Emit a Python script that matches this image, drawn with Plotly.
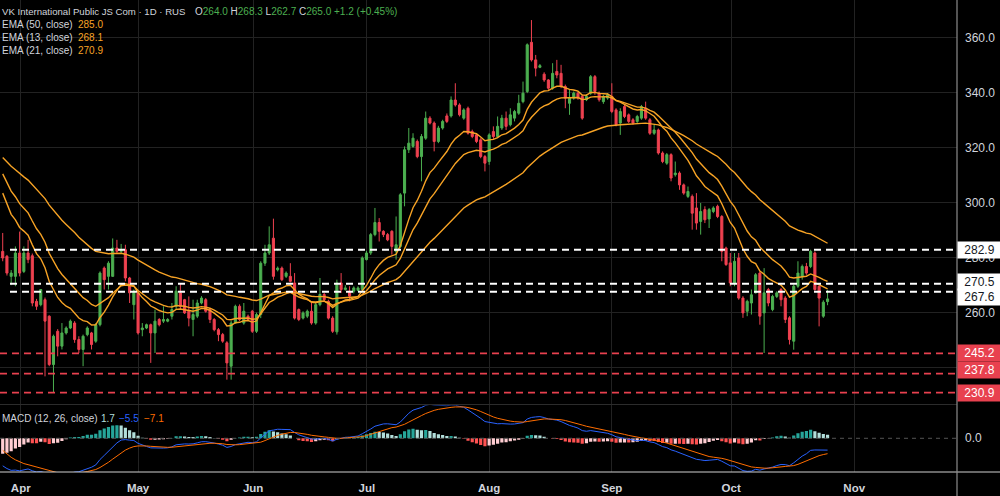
import numpy as np
import plotly.graph_objects as go

# ---------------- data ----------------
OPEN = [282.3, 280.5, 273.2, 273.2, 281.7, 275.0, 281.7, 280.7, 264.1, 262.9,
        264.7, 258.7, 241.1, 253.2, 247.8, 252.6, 254.4, 256.2, 250.2, 246.6,
        252.0, 252.6, 249.6, 255.6, 276.2, 273.2, 273.2, 283.5, 282.3, 282.9,
        272.6, 262.9, 267.2, 253.8, 254.4, 255.6, 252.6, 257.5, 256.9, 256.9,
        258.7, 262.3, 267.2, 264.7, 260.5, 257.5, 258.7, 263.5, 264.7, 261.1,
        257.5, 253.8, 252.0, 249.0, 240.5, 256.2, 262.3, 256.2, 258.7, 260.5,
        253.2, 259.3, 278.0, 281.7, 287.1, 275.6, 276.2, 273.2, 273.2, 270.8,
        261.1, 258.0, 258.7, 260.5, 256.2, 262.9, 266.6, 264.1, 258.0, 253.0,
        270.8, 268.4, 267.8, 267.8, 268.1, 268.4, 279.3, 281.7, 288.4, 292.8,
        289.6, 288.4, 289.6, 282.3, 284.1, 303.5, 319.3, 320.5, 322.3, 316.8,
        323.5, 330.8, 329.0, 322.3, 327.2, 331.6, 331.6, 337.4, 335.6, 330.8,
        334.4, 325.9, 324.7, 322.9, 316.8, 315.0, 325.9, 324.1, 327.2, 330.8,
        328.4, 330.8, 332.6, 336.8, 340.5, 358.4, 352.0, 349.3, 346.8, 344.7,
        341.7, 347.8, 347.1, 342.3, 336.2, 338.1, 339.9, 338.7, 337.5, 339.9,
        345.9, 339.9, 336.8, 338.1, 338.7, 333.8, 329.0, 335.0, 332.0, 330.2,
        329.6, 330.8, 334.4, 330.2, 325.3, 326.5, 318.1, 314.4, 317.5, 310.2,
        310.8, 306.5, 302.3, 302.3, 298.1, 293.2, 297.5, 294.1, 296.8, 298.7,
        295.0, 283.5, 278.1, 270.8, 279.9, 265.3, 260.5, 263.5, 267.2, 274.4,
        259.9, 268.4, 261.1, 265.9, 268.4, 265.3, 258.1, 249.6, 269.6, 273.2,
        276.8, 276.8, 281.7, 269.6, 258.7, 264.0]
HIGH = [289.0, 281.0, 275.5, 284.1, 289.5, 284.1, 286.5, 281.5, 265.0, 268.6,
        265.5, 259.0, 252.0, 254.0, 256.2, 255.0, 257.5, 256.9, 251.4, 252.0,
        255.0, 253.0, 256.2, 275.0, 276.8, 278.7, 287.0, 286.5, 285.0, 284.7,
        273.0, 268.4, 268.0, 256.2, 256.0, 256.0, 261.1, 258.0, 262.3, 258.0,
        263.5, 269.6, 270.8, 265.0, 265.9, 264.7, 264.7, 266.0, 265.3, 261.5,
        258.0, 254.4, 252.6, 249.6, 257.0, 262.9, 263.0, 263.5, 259.3, 261.0,
        260.0, 278.7, 284.7, 291.4, 294.2, 276.8, 276.8, 275.0, 278.0, 274.4,
        261.5, 260.5, 261.1, 263.5, 263.5, 272.6, 267.2, 264.7, 258.7, 272.0,
        274.4, 270.0, 269.6, 269.6, 269.6, 280.5, 282.5, 289.0, 298.1, 294.4,
        290.0, 289.0, 290.0, 295.0, 303.5, 320.5, 327.2, 325.3, 323.0, 325.0,
        333.2, 331.5, 329.6, 328.0, 330.2, 332.5, 338.7, 343.5, 336.2, 334.4,
        335.0, 326.6, 325.3, 323.5, 317.4, 325.3, 327.8, 331.4, 332.0, 333.2,
        334.4, 333.8, 339.3, 344.1, 358.0, 366.5, 353.8, 350.5, 347.5, 345.0,
        350.8, 352.0, 350.2, 343.0, 341.1, 340.5, 340.5, 339.3, 339.5, 346.5,
        346.5, 340.5, 339.3, 339.9, 343.5, 334.4, 334.4, 335.6, 332.5, 330.8,
        332.0, 335.6, 336.8, 330.8, 328.4, 327.0, 318.7, 318.1, 318.0, 315.0,
        311.4, 307.0, 305.9, 303.0, 303.5, 299.9, 298.7, 298.1, 298.7, 299.3,
        295.5, 284.0, 281.7, 281.7, 281.7, 266.0, 264.7, 268.4, 274.4, 275.0,
        276.2, 269.0, 266.5, 267.8, 269.0, 266.0, 258.7, 270.2, 278.7, 277.5,
        278.1, 282.9, 282.3, 269.8, 264.5, 268.3]
LOW = [278.7, 273.5, 270.0, 269.6, 273.2, 274.4, 278.0, 262.3, 261.0, 262.3,
       236.8, 240.5, 230.8, 244.1, 246.6, 252.0, 254.0, 249.0, 245.3, 240.5,
       251.4, 246.6, 249.0, 255.0, 268.4, 268.4, 273.0, 281.7, 281.5, 271.4,
       263.5, 257.5, 252.0, 251.4, 254.0, 241.7, 245.3, 255.0, 256.2, 256.5,
       257.5, 261.1, 261.1, 259.5, 255.0, 251.4, 258.0, 263.0, 260.0, 256.2,
       253.2, 249.6, 249.0, 235.6, 235.6, 256.0, 256.9, 255.6, 257.0, 252.6,
       252.6, 258.0, 277.0, 281.0, 272.0, 275.0, 271.5, 272.6, 271.0, 257.5,
       256.9, 257.5, 258.0, 255.6, 255.6, 262.3, 264.0, 257.5, 252.6, 252.0,
       267.2, 268.0, 264.1, 267.0, 267.8, 268.0, 279.0, 281.0, 287.8, 285.9,
       287.5, 286.0, 281.1, 279.3, 283.5, 298.7, 318.1, 320.0, 316.2, 307.8,
       322.9, 328.5, 318.7, 321.7, 326.6, 329.0, 331.0, 335.0, 331.4, 330.2,
       324.8, 323.5, 321.7, 316.2, 311.4, 313.8, 322.9, 323.5, 326.5, 326.5,
       327.8, 329.6, 332.0, 336.2, 339.9, 351.4, 346.0, 349.0, 344.0, 341.1,
       341.1, 345.3, 341.7, 334.4, 332.0, 337.5, 337.5, 330.2, 337.0, 339.3,
       339.3, 336.8, 336.0, 337.5, 332.6, 327.8, 324.7, 330.8, 329.0, 328.4,
       329.0, 330.2, 330.2, 324.7, 324.7, 317.5, 314.4, 313.8, 307.8, 309.5,
       304.7, 302.9, 301.7, 290.2, 290.2, 288.4, 292.6, 290.8, 296.2, 294.4,
       278.7, 277.0, 269.6, 269.6, 264.7, 258.1, 258.7, 259.3, 267.0, 255.6,
       245.3, 262.3, 260.5, 265.3, 262.3, 256.2, 248.4, 246.5, 269.0, 272.0,
       273.8, 276.2, 268.0, 255.0, 258.1, 262.7]
CLOSE = [279.9, 274.4, 274.4, 281.7, 274.4, 281.7, 279.3, 263.5, 262.3, 268.4,
         256.9, 241.1, 251.4, 247.8, 252.6, 254.4, 256.9, 250.2, 246.6, 251.4,
         254.4, 248.4, 255.6, 274.4, 272.0, 278.0, 283.5, 282.3, 283.0, 272.6,
         267.2, 267.8, 252.6, 254.4, 255.6, 252.6, 256.9, 255.6, 257.5, 257.5,
         261.1, 267.8, 262.3, 259.9, 258.0, 259.3, 263.5, 265.3, 260.5, 257.5,
         253.8, 252.0, 249.6, 241.7, 256.2, 262.3, 257.5, 260.5, 257.5, 253.2,
         259.3, 278.0, 281.7, 284.7, 273.2, 276.2, 272.0, 274.4, 271.4, 258.0,
         257.5, 259.9, 260.5, 256.2, 262.9, 266.6, 264.7, 258.0, 253.2, 270.8,
         268.4, 269.0, 266.0, 269.0, 269.0, 279.9, 281.7, 288.4, 292.8, 289.6,
         288.4, 286.5, 284.1, 284.7, 302.9, 319.3, 321.7, 323.5, 316.8, 324.1,
         330.8, 329.0, 322.3, 327.2, 329.6, 329.6, 337.4, 335.6, 332.0, 333.8,
         325.3, 324.1, 322.3, 316.8, 314.4, 324.7, 324.1, 327.8, 330.8, 327.8,
         332.0, 333.2, 336.2, 339.9, 357.5, 352.0, 349.0, 349.9, 344.7, 341.7,
         347.1, 346.5, 342.3, 338.1, 338.1, 339.9, 338.1, 330.8, 338.7, 345.9,
         340.5, 337.5, 338.7, 339.3, 333.2, 328.4, 333.2, 331.4, 329.6, 329.0,
         331.4, 335.0, 330.8, 325.3, 326.5, 318.1, 315.0, 317.5, 309.0, 310.8,
         306.5, 303.5, 304.1, 296.2, 292.6, 296.8, 293.8, 297.5, 298.1, 295.0,
         282.3, 277.5, 270.8, 278.7, 265.3, 259.9, 264.1, 266.5, 273.8, 258.7,
         267.2, 263.5, 265.9, 267.2, 264.7, 257.5, 250.2, 269.6, 274.4, 276.8,
         274.4, 282.3, 268.4, 265.3, 263.8, 265.0]

# indicator values at the first visible bar
EMA_SEED = {13: 303.5, 21: 310.5, 50: 316.5}
MACD_FAST_SEED = 301.5   # EMA(12) at first bar
MACD_SLOW_SEED = 314.0   # EMA(26) at first bar
MACD_SIGNAL_SEED = -5.5

MONTH_LABELS = ["Apr", "May", "Jun", "Jul", "Aug", "Sep", "Oct", "Nov"]
MONTH_START_BAR = [4.26, 32.0, 59.2, 86.1, 115.0, 144.0, 172.2, 201.3]

PRICE_TICKS = [240, 260, 280, 300, 320, 340, 360]
WHITE_LEVELS = [282.9, 270.5, 267.6]
RED_LEVELS = [245.2, 237.8, 230.9]

TITLE = "VK International Public JS Com · 1D · RUS"
OHLC_TEXT = [("O", "264.0"), ("H", "268.3"), ("L", "262.7"), ("C", "265.0")]
CHANGE_TEXT = "+1.2 (+0.45%)"
EMA_LEGEND = [("EMA (50, close)", "285.0"), ("EMA (13, close)", "268.1"),
              ("EMA (21, close)", "270.9")]
MACD_LEGEND = ("MACD (12, 26, close)", "1.7", "−5.5", "−7.1")

# ---------------- indicators ----------------
def ema(values, span, seed):
    a = 2.0 / (span + 1)
    out = [seed]
    for v in values[1:]:
        out.append(a * v + (1 - a) * out[-1])
    return np.array(out)

close = np.array(CLOSE)
x = np.arange(len(CLOSE))
ema13 = ema(close, 13, EMA_SEED[13])
ema21 = ema(close, 21, EMA_SEED[21])
ema50 = ema(close, 50, EMA_SEED[50])
macd = ema(close, 12, MACD_FAST_SEED) - ema(close, 26, MACD_SLOW_SEED)
signal = ema(macd, 9, MACD_SIGNAL_SEED)
hist = macd - signal
hcol = []
for i, h in enumerate(hist):
    prev = hist[i - 1] if i > 0 else h
    if h >= 0:
        hcol.append("#26a69a" if h > prev else "#b2dfdb")
    else:
        hcol.append("#ff5252" if h < prev else "#ffcdd2")

# ---------------- styling ----------------
UP = "#4caf50"
DOWN = "#ef4150"
EMA_COL = "#f7a325"
TXT = "#d1d4dc"
GRID = "#222222"
FONT = "Liberation Sans, Arial, sans-serif"
W, H = 1000, 496
ML, MR, MT, MB = 0, 43, 0, 24
PW, PH = W - ML - MR, H - MT - MB

fig = go.Figure()
fig.add_trace(go.Candlestick(
    x=x, open=OPEN, high=HIGH, low=LOW, close=CLOSE, xaxis="x", yaxis="y",
    increasing=dict(line=dict(color=UP, width=1), fillcolor=UP),
    decreasing=dict(line=dict(color=DOWN, width=1), fillcolor=DOWN),
    whiskerwidth=0, hoverinfo="skip", showlegend=False))
for e in (ema50, ema21, ema13):
    fig.add_trace(go.Scatter(x=x, y=e, mode="lines", line=dict(color=EMA_COL, width=1.4),
                             xaxis="x", yaxis="y", hoverinfo="skip", showlegend=False))
fig.add_trace(go.Bar(x=x, y=hist, marker=dict(color=hcol, line=dict(width=0)),
                     xaxis="x", yaxis="y2", hoverinfo="skip", showlegend=False))
fig.add_trace(go.Scatter(x=x, y=macd, mode="lines", line=dict(color="#2962ff", width=1),
                         xaxis="x", yaxis="y2", hoverinfo="skip", showlegend=False))
fig.add_trace(go.Scatter(x=x, y=signal, mode="lines", line=dict(color="#ff6d00", width=1),
                         xaxis="x", yaxis="y2", hoverinfo="skip", showlegend=False))

price_bottom = (PH - 404.5) / PH

shapes = []
for lv in WHITE_LEVELS:
    shapes.append(dict(type="line", xref="paper", yref="y", x0=10 / PW, x1=1, y0=lv, y1=lv,
                       line=dict(color="#ffffff", width=2, dash="7px,5px"), layer="above"))
for lv in RED_LEVELS:
    shapes.append(dict(type="line", xref="paper", yref="y", x0=0, x1=1, y0=lv, y1=lv,
                       line=dict(color="#e8414f", width=1.8, dash="7px,5px"), layer="above"))
shapes.append(dict(type="line", xref="paper", yref="y2", x0=0, x1=1, y0=0, y1=0,
                   line=dict(color="#555555", width=1, dash="4px,4px")))
shapes.append(dict(type="line", xref="paper", yref="paper", x0=0, x1=1, y0=price_bottom,
                   y1=price_bottom, line=dict(color="#2c2c2c", width=1)))
shapes.append(dict(type="line", xref="paper", yref="paper", x0=0, x1=W / PW, y0=0, y1=0,
                   line=dict(color="#cfcfcf", width=1.2)))
shapes.append(dict(type="line", xref="paper", yref="paper", x0=1, x1=1, y0=-MB / PH, y1=1,
                   line=dict(color="#8c8c8c", width=1.2)))

ann = []
def px_x(p):
    return p / PW
def px_y(p):
    return 1 - p / PH

ann.append(dict(x=0, y=px_y(11.5), xref="paper", yref="paper", xanchor="left", yanchor="middle",
                text=TITLE, showarrow=False, font=dict(size=9.6, color=TXT, family=FONT)))
ohlc = " ".join(f"{k}<span style='color:{UP}'>{v}</span>" for k, v in OHLC_TEXT)
ohlc += f" <span style='color:{UP}'>{CHANGE_TEXT}</span>"
ann.append(dict(x=px_x(193), y=px_y(11.5), xref="paper", yref="paper", xanchor="left",
                yanchor="middle", text=ohlc, showarrow=False,
                font=dict(size=10, color=TXT, family=FONT)))
for k, (lab, val) in enumerate(EMA_LEGEND):
    yy = px_y(25 + 12.8 * k)
    ann.append(dict(x=0, y=yy, xref="paper", yref="paper", xanchor="left", yanchor="middle",
                    text=lab, showarrow=False, font=dict(size=10, color=TXT, family=FONT)))
    ann.append(dict(x=px_x(76), y=yy, xref="paper", yref="paper", xanchor="left",
                    yanchor="middle", text=val, showarrow=False,
                    font=dict(size=10, color=EMA_COL, family=FONT)))
my = px_y(418.3)
ann.append(dict(x=0, y=my, xref="paper", yref="paper", xanchor="left", yanchor="middle",
                text=MACD_LEGEND[0], showarrow=False, font=dict(size=10, color=TXT, family=FONT)))
for xp, t, c in ((99, MACD_LEGEND[1], "#b2dfdb"), (117, MACD_LEGEND[2], "#2962ff"),
                 (142, MACD_LEGEND[3], "#ff6d00")):
    ann.append(dict(x=px_x(xp), y=my, xref="paper", yref="paper", xanchor="left",
                    yanchor="middle", text=t, showarrow=False,
                    font=dict(size=10, color=c, family=FONT)))

# price-scale labels for the horizontal levels
label_shift = {282.9: 0, 270.5: 2, 267.6: -5, 245.2: 0, 237.8: 3.5, 230.9: 0}
for lv in WHITE_LEVELS + RED_LEVELS:
    white = lv in WHITE_LEVELS
    ann.append(dict(x=1, y=lv, xref="paper", yref="y", xanchor="left", yanchor="middle",
                    text=f"{lv:.1f}", showarrow=False, yshift=label_shift[lv],
                    bgcolor="#ffffff" if white else "#e8414f", borderpad=2, width=39,
                    height=12, align="center",
                    font=dict(size=12, color="#131722" if white else "#ffffff", family=FONT)))

fig.update_layout(
    width=W, height=H, margin=dict(l=ML, r=MR, t=MT, b=MB, pad=0),
    paper_bgcolor="#000000", plot_bgcolor="#000000",
    showlegend=False, bargap=0.25, dragmode=False,
    font=dict(family=FONT, color=TXT),
    xaxis=dict(domain=[0, 1], range=[-0.64, 225.6], anchor="y2",
               tickvals=MONTH_START_BAR, ticktext=MONTH_LABELS,
               showgrid=True, gridcolor=GRID, gridwidth=1, zeroline=False, showline=False,
               ticks="", ticklabelstandoff=7,
               tickfont=dict(size=11.5, color=TXT, family=FONT, weight=600),
               rangeslider=dict(visible=False), fixedrange=True),
    yaxis=dict(domain=[price_bottom + 0.002, 1], range=[226.9, 373.8], side="right",
               anchor="x", tickvals=PRICE_TICKS, ticktext=[f"{v:.1f}" for v in PRICE_TICKS],
               showgrid=True, gridcolor=GRID, zeroline=False, showline=False, ticks="",
               ticklabelstandoff=7, tickfont=dict(size=12, color=TXT, family=FONT),
               fixedrange=True),
    yaxis2=dict(domain=[0, price_bottom - 0.002], range=[-15.3, 14.9], side="right",
                anchor="x", tickvals=[0], ticktext=["0.0"], showgrid=False, zeroline=False,
                showline=False, ticks="", ticklabelstandoff=7,
                tickfont=dict(size=12, color=TXT, family=FONT), fixedrange=True),
    shapes=shapes, annotations=ann,
)

fig.write_html("out.html", config={"displayModeBar": False, "staticPlot": True})
